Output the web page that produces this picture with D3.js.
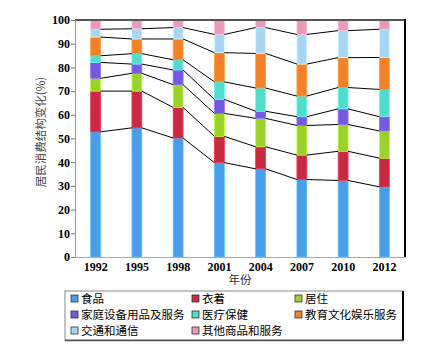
<!DOCTYPE html>
<html lang="zh">
<head>
<meta charset="UTF-8">
<script src="https://d3js.org/d3.v7.min.js"></script>
<style>
  body { margin: 0; background: #fff; }
  .tick text { font-family: "Liberation Serif", serif; font-weight: bold; font-size: 12px; fill: #000; }
  .leg { font-family: "Noto Sans CJK SC", sans-serif; font-size: 11.5px; fill: #000; }
</style>
</head>
<body>
<div id="chart"></div>
<script>
const years = ["1992", "1995", "1998", "2001", "2004", "2007", "2010", "2012"];
const categories = ["食品", "衣着", "居住", "家庭设备用品及服务", "医疗保健", "教育文化娱乐服务", "交通和通信", "其他商品和服务"];
const colors = ["#4a9de9", "#c92a43", "#9bd12b", "#7559e3", "#52dccb", "#f2812a", "#a9d5f5", "#e89bb6"];

// cumulative top of each category (%)
const food      = [52.8, 54.5, 50.2, 39.8, 37.2, 32.7, 32.3, 29.6];
const clothing  = [70.0, 70.0, 63.1, 50.9, 46.5, 43.0, 44.6, 41.7];
const housing   = [75.4, 77.5, 72.7, 60.6, 58.5, 55.5, 55.9, 53.2];
const household = [82.1, 81.4, 78.9, 66.5, 61.5, 59.2, 62.5, 59.2];
const medical   = [84.9, 85.8, 83.2, 73.9, 71.3, 67.9, 71.5, 70.7];
const education = [92.8, 92.0, 92.0, 86.2, 85.9, 81.4, 84.1, 84.2];
const transport = [96.1, 96.3, 96.8, 93.9, 96.8, 93.9, 95.5, 96.1];
const other     = [100, 100, 100, 100, 100, 100, 100, 100];
const tops = [food, clothing, housing, household, medical, education, transport, other];

const W = 426, H = 352;
const m = { left: 75, right: 21, top: 20, bottom: 95 };

const svg = d3.select("#chart").append("svg").attr("width", W).attr("height", H);

const x = d3.scaleBand().domain(years).range([m.left, W - m.right]).paddingInner(0.76).paddingOuter(0.38);
const y = d3.scaleLinear().domain([0, 100]).range([H - m.bottom, m.top]);

// stacked segments
tops.forEach((t, ci) => {
  svg.append("g").selectAll("rect")
    .data(years)
    .enter().append("rect")
    .attr("x", d => x(d))
    .attr("width", x.bandwidth())
    .attr("y", (d, i) => y(t[i]))
    .attr("height", (d, i) => y(ci === 0 ? 0 : tops[ci - 1][i]) - y(t[i]))
    .attr("fill", colors[ci])
    .attr("stroke", d3.color(colors[ci]).brighter(0.6))
    .attr("stroke-width", 0.8);
});

// connecting lines between bars
tops.slice(0, 7).forEach(t => {
  for (let i = 0; i < years.length - 1; i++) {
    svg.append("line")
      .attr("x1", x(years[i]) + x.bandwidth())
      .attr("x2", x(years[i + 1]))
      .attr("y1", y(t[i]))
      .attr("y2", y(t[i + 1]))
      .attr("stroke", "#000")
      .attr("stroke-width", 1);
  }
});

// frame
svg.append("line").attr("x1", m.left).attr("x2", W - m.right).attr("y1", y(100)).attr("y2", y(100))
  .attr("stroke", "#555").attr("stroke-width", 2);
svg.append("line").attr("x1", W - m.right).attr("x2", W - m.right).attr("y1", y(100) - 1).attr("y2", y(0))
  .attr("stroke", "#000").attr("stroke-width", 2);

// axes
const yAxis = svg.append("g").attr("transform", `translate(${m.left},0)`)
  .call(d3.axisLeft(y).ticks(10).tickSize(4).tickPadding(1));
yAxis.select(".domain").attr("stroke", "#999");
yAxis.selectAll(".tick line").attr("stroke", "#777");

const xAxis = svg.append("g").attr("transform", `translate(0,${y(0)})`)
  .call(d3.axisBottom(x).tickSize(0).tickPadding(5));
xAxis.select(".domain").attr("stroke", "#aaa");

svg.append("text").attr("x", 240).attr("y", 284).attr("text-anchor", "middle")
  .attr("font-family", "Noto Sans CJK SC").attr("font-size", 11.5).attr("fill", "#333").text("年份");

svg.append("text").attr("transform", "translate(45,132) rotate(-90)").attr("text-anchor", "middle")
  .attr("font-family", "Noto Sans CJK SC").attr("font-size", 11.5).attr("fill", "#444").text("居民消费结构变化(%)");

// legend
const lg = svg.append("g");
lg.append("rect").attr("x", 65).attr("y", 291).attr("width", 338).attr("height", 49)
  .attr("fill", "#fff").attr("stroke", "#888").attr("stroke-width", 1);
lg.append("line").attr("x1", 403).attr("x2", 403).attr("y1", 291).attr("y2", 341).attr("stroke", "#000").attr("stroke-width", 2);
lg.append("line").attr("x1", 65).attr("x2", 404).attr("y1", 340.5).attr("y2", 340.5).attr("stroke", "#555").attr("stroke-width", 1.5);

const colX = [71, 192, 295];
categories.forEach((c, i) => {
  const cx = colX[i % 3], cy = 299 + Math.floor(i / 3) * 16;
  lg.append("rect").attr("x", cx).attr("y", cy - 4).attr("width", 7).attr("height", 7)
    .attr("fill", colors[i]).attr("stroke", "#333").attr("stroke-width", 0.8);
  lg.append("text").attr("class", "leg").attr("x", cx + 10).attr("y", cy + 4).text(c);
});
</script>
</body>
</html>
